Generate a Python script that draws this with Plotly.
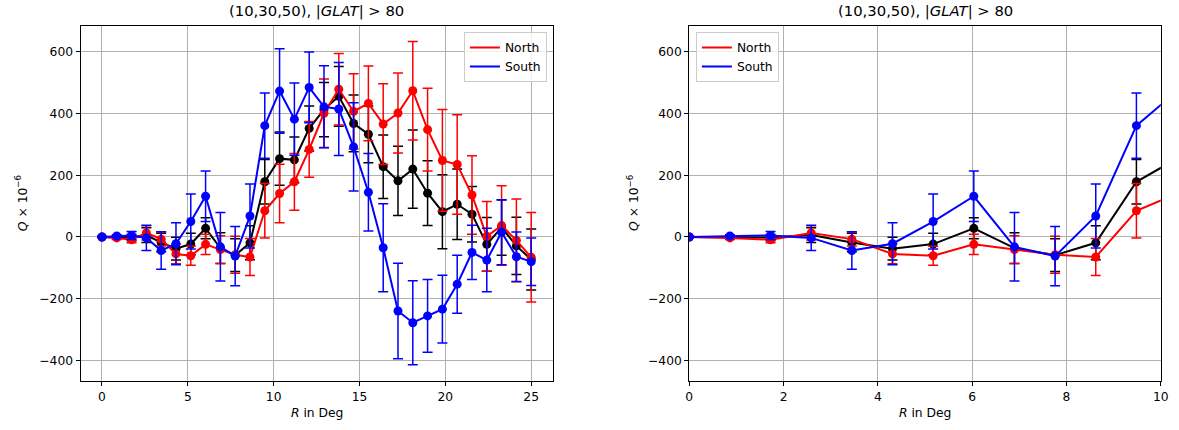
import numpy as np
import plotly.graph_objects as go

# Radial bins (deg)
R = np.linspace(0, 25, 30)

north = [0, -3, -9, 13, -7, -55, -61, -24, -41, -58, -65, 85, 141, 179, 284,
         401, 479, 407, 433, 366, 402, 474, 348, 248, 235, 136, 2, 37, -11, -66]
north_err = [2, 5, 10, 23, 22, 32, 31, 33, 45, 60, 60, 88, 95, 92, 90,
             111, 116, 122, 121, 131, 130, 160, 134, 165, 161, 127, 113, 129, 134, 145]

south = [0, 3, 5, -3, -44, -22, 50, 132, -32, -62, 68, 361, 473, 382, 485,
         422, 415, 292, 145, -35, -240, -278, -256, -234, -153, -50, -75, 15, -64, -80]
south_err = [2, 4, 13, 41, 61, 68, 89, 82, 111, 96, 104, 106, 137, 117, 115,
             133, 151, 143, 126, 143, 155, 136, 118, 110, 94, 88, 103, 105, 80, 77]

combined = [0, 0, -2, 6, -18, -38, -23, 28, -36, -59, -19, 179, 254, 250, 352,
            413, 456, 368, 333, 228, 182, 220, 142, 82, 106, 74, -24, 31, -29, -73]
combined_err = [1, 4, 10, 24, 30, 37, 35, 34, 50, 53, 55, 72, 86, 74, 73,
                88, 97, 92, 92, 103, 112, 127, 105, 120, 114, 90, 87, 90, 93, 99]

title_text = "(10,30,50), |<i>GLAT</i>| > 80"
xlabel_text = "<i>R</i> in Deg"
ylabel_text = "<i>Q</i> × 10<sup>−6</sup>"

FONT = "DejaVu Sans"
FS = 12.3       # tick / label / legend size
FS_TITLE = 14.8
W, H = 1179, 430

fig = go.Figure()

series = [
    (combined, combined_err, "black", "Combined"),
    (north, north_err, "red", "North"),
    (south, south_err, "blue", "South"),
]

for xa, ya, leg in [("x", "y", "legend"), ("x2", "y2", "legend2")]:
    for vals, errs, col, name in series:
        fig.add_trace(go.Scatter(
            x=R, y=vals, mode="lines+markers", name=name,
            line=dict(color=col, width=2),
            marker=dict(color=col, size=9),
            error_y=dict(type="data", array=errs, visible=True,
                         color=col, thickness=1.5, width=5),
            xaxis=xa, yaxis=ya, showlegend=False, legend=leg,
        ))
    # legend entries (line only)
    for vals, errs, col, name in series[1:]:
        fig.add_trace(go.Scatter(
            x=[None], y=[None], mode="lines", name=name,
            line=dict(color=col, width=2),
            xaxis=xa, yaxis=ya, showlegend=True, legend=leg,
        ))

# plot areas (pixels)
L1, R1 = 77.3, 554.3
L2, R2 = 692.3, 1168.7
TOP, BOT = 25.7, 381.0

def px(x):
    return x / W

def py(y):
    return (H - y) / H

axis_common = dict(
    showline=True, mirror=True, linecolor="black", linewidth=1,
    showgrid=True, gridcolor="#b0b0b0", gridwidth=0.8,
    ticks="outside", ticklen=4, tickcolor="black", tickwidth=1,
    zeroline=False, tickfont=dict(family=FONT, size=FS, color="black"),
)

yrange = [-467, 685]

legend_style = dict(
    yanchor="top", y=py(32),
    bgcolor="rgba(255,255,255,0.8)", bordercolor="#cccccc", borderwidth=1,
    font=dict(family=FONT, size=FS), itemwidth=30, tracegroupgap=0,
)

fig.update_layout(
    width=W, height=H,
    margin=dict(l=0, r=0, t=0, b=0),
    paper_bgcolor="white", plot_bgcolor="white",
    font=dict(family=FONT, size=FS, color="black"),
    xaxis=dict(domain=[px(L1), px(R1)], range=[-1.25, 26.25],
               tickvals=[0, 5, 10, 15, 20, 25], anchor="y", **axis_common),
    yaxis=dict(domain=[py(BOT), py(TOP)], range=yrange,
               tickvals=[-400, -200, 0, 200, 400, 600], anchor="x", **axis_common),
    xaxis2=dict(domain=[px(L2), px(R2)], range=[0, 10],
                tickvals=[0, 2, 4, 6, 8, 10], anchor="y2", **axis_common),
    yaxis2=dict(domain=[py(BOT), py(TOP)], range=yrange,
                tickvals=[-400, -200, 0, 200, 400, 600], anchor="x2", **axis_common),
    legend=dict(x=px(548.5), xanchor="right", **legend_style),
    legend2=dict(x=px(699), xanchor="left", **legend_style),
)

annotations = []
for L, Rr, ylab_x in [(L1, R1, 18), (L2, R2, 636)]:
    cx = (L + Rr) / 2
    common = dict(xref="paper", yref="paper", showarrow=False,
                  xanchor="center", yanchor="middle")
    annotations.append(dict(text=title_text, x=px(cx), y=py(11),
                            font=dict(family=FONT, size=FS_TITLE), **common))
    annotations.append(dict(text=xlabel_text, x=px(cx), y=py(413),
                            font=dict(family=FONT, size=FS), **common))
    annotations.append(dict(text=ylabel_text, x=px(ylab_x), y=py((TOP + BOT) / 2),
                            textangle=-90, font=dict(family=FONT, size=FS), **common))
fig.update_layout(annotations=annotations)

fig.write_html("out.html")
